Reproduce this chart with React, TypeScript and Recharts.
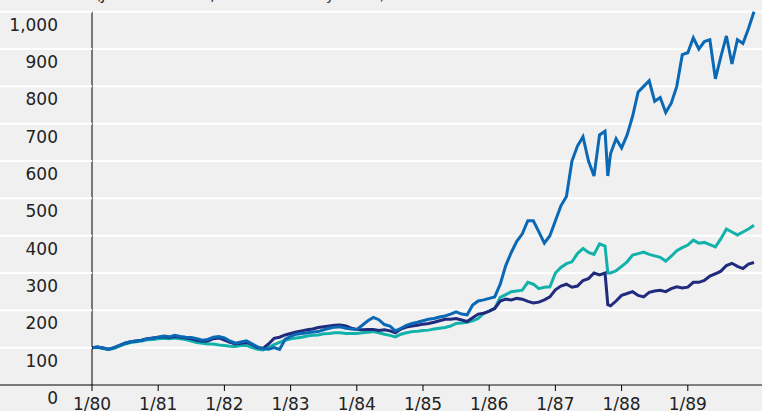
import React from "react";
import { LineChart, Line, XAxis, YAxis, CartesianGrid } from "recharts";

// Months since Jan 1980 (93.5 = mid-Oct 1987 crash)
const months: number[] = [];
for (let m = 0; m <= 120; m++) {
  months.push(m);
  if (m === 93) months.push(93.5);
}

const blueSeries = [
  100, 102, 99, 95, 100, 106, 112, 116, 118, 120, 124, 125,
  128, 131, 129, 133, 130, 128, 127, 124, 120, 122, 128, 130,
  126, 118, 112, 115, 118, 110, 102, 98, 96, 100, 95, 122,
  130, 136, 138, 140, 142, 143, 148, 152, 155, 156, 152, 150,
  149, 160, 172, 181, 175, 162, 158, 145, 152, 160, 165, 168,
  172, 176, 178, 182, 185, 190, 196, 190, 188, 214, 225, 228,
  232, 236, 270, 320, 355, 385, 405, 440, 440, 410, 380, 400,
  440, 480, 505, 600, 640, 665, 600, 560, 670, 680, 560, 620,
  660, 635, 670, 720, 785, 800, 815, 760, 770, 730, 755, 800,
  885, 890, 930, 900, 920, 925, 820, 880, 935, 860, 925, 915,
  955, 1000,
];

const navySeries = [
  100, 102, 99, 96, 100, 106, 112, 116, 118, 120, 124, 126,
  128, 129, 127, 130, 128, 126, 124, 120, 117, 118, 124, 126,
  120, 114, 110, 112, 114, 108, 100, 98, 110, 125, 128, 134,
  138, 142, 145, 148, 150, 154, 156, 158, 160, 161, 158, 152,
  149, 148, 149, 149, 146, 148, 145, 140, 150, 155, 158, 160,
  163, 165, 168, 172, 176, 176, 178, 174, 170, 180, 190, 192,
  198, 205, 225, 230, 228, 232, 230, 224, 220, 222, 228, 236,
  255, 265, 270, 262, 265, 280, 285, 300, 295, 300, 215, 212,
  225, 240, 245, 250, 240, 236, 248, 252, 254, 250, 258, 263,
  260, 262, 275, 275, 280, 292, 298, 305, 320, 326, 318, 312,
  324, 328,
];

const tealSeries = [
  100, 101, 98, 95, 98, 104, 110, 114, 116, 118, 121, 122,
  124, 125, 124, 126, 124, 122, 118, 114, 112, 110, 110, 107,
  106, 104, 103, 106, 106, 100, 96, 94, 100, 108, 114, 120,
  124, 126, 128, 131, 133, 134, 137, 138, 140, 140, 138, 138,
  138, 140, 141, 143, 140, 136, 133, 129, 136, 140, 143, 144,
  146, 147, 150, 152, 154, 158, 165, 166, 168, 172, 178, 192,
  198, 205, 235, 242, 250, 252, 254, 275, 270, 258, 262, 263,
  300, 315, 325, 330, 352, 366, 355, 350, 378, 372, 300, 300,
  306, 318, 330, 348, 352, 356, 350, 346, 342, 332, 345, 360,
  368, 375, 388, 380, 382, 376, 370, 392, 418, 410, 402, 410,
  418, 428,
];

const yTicks = [0, 100, 200, 300, 400, 500, 600, 700, 800, 900, 1000];
const xTicks = [0, 12, 24, 36, 48, 60, 72, 84, 96, 108];
const xTickLabels = ["1/80", "1/81", "1/82", "1/83", "1/84", "1/85", "1/86", "1/87", "1/88", "1/89"];

const titleText = "Index level (Jan 1980 = 100, in local currency terms)";

const data = months.map((m, i) => ({
  m,
  blue: blueSeries[i],
  navy: navySeries[i],
  teal: tealSeries[i],
}));

const FONT = "'DejaVu Sans', Verdana, sans-serif";
const TEXT_COLOR = "#222";

const YTick = (props: any) => {
  const { y, payload } = props;
  const v = payload.value as number;
  return (
    <g>
      <line x1={0} x2={92} y1={y} y2={y} stroke={v === 0 ? "#000" : "#fff"} strokeWidth={v === 0 ? 1 : 2} />
      <text x={58} y={y + 19} textAnchor="end" fontFamily={FONT} fontSize={17} fill={TEXT_COLOR}>
        {v.toLocaleString("en-US")}
      </text>
    </g>
  );
};

const XTick = (props: any) => {
  const { x, payload } = props;
  const idx = xTicks.indexOf(payload.value);
  return (
    <text x={x} y={410} textAnchor="middle" fontFamily={FONT} fontSize={17} fill={TEXT_COLOR}>
      {xTickLabels[idx]}
    </text>
  );
};

export default function App() {
  return (
    <div
      style={{
        position: "fixed",
        left: 0,
        top: 0,
        width: 762,
        height: 411,
        background: "#f0f0f0",
        overflow: "hidden",
      }}
    >
      <div
        style={{
          position: "absolute",
          left: 15,
          top: -13,
          fontFamily: FONT,
          fontSize: 14,
          color: TEXT_COLOR,
          whiteSpace: "nowrap",
        }}
      >
        {titleText}
      </div>
      <LineChart
        width={762}
        height={411}
        data={data}
        margin={{ top: 11.7, right: 0, left: 0, bottom: 0 }}
      >
        <CartesianGrid vertical={false} stroke="#fff" strokeWidth={2} />
        <XAxis
          dataKey="m"
          type="number"
          domain={[0, 121.45]}
          ticks={xTicks}
          tick={<XTick />}
          tickLine={{ stroke: "#000" }}
          tickSize={6}
          axisLine={{ stroke: "#000" }}
          height={26}
          interval={0}
        />
        <YAxis
          type="number"
          domain={[0, 1000]}
          ticks={yTicks}
          tick={<YTick />}
          tickLine={false}
          axisLine={{ stroke: "#000" }}
          width={92}
          interval={0}
        />
        <Line type="linear" dataKey="teal" stroke="#12b2ab" strokeWidth={3} dot={false} isAnimationActive={false} />
        <Line type="linear" dataKey="navy" stroke="#202b7e" strokeWidth={3} dot={false} isAnimationActive={false} />
        <Line type="linear" dataKey="blue" stroke="#0a68b4" strokeWidth={3} dot={false} isAnimationActive={false} />
      </LineChart>
    </div>
  );
}
